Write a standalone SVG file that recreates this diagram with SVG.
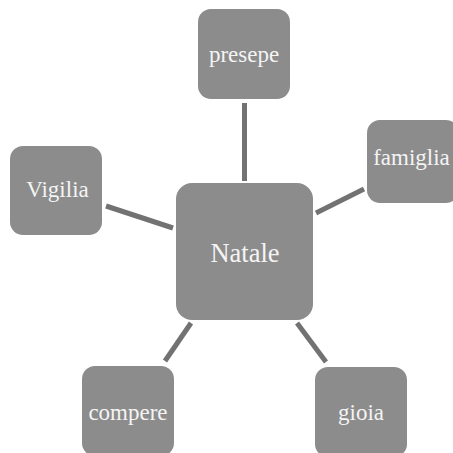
<svg xmlns="http://www.w3.org/2000/svg" width="453" height="453" viewBox="0 0 453 453">
<style>
.box{fill:#8c8c8c;}
.lbl{fill:#f4f4f4;font-family:"Liberation Serif","Times New Roman",serif;font-size:23px;text-anchor:middle;}
.big{font-size:26.5px;}
.conn line{stroke:#727272;stroke-width:5;}
</style>
<rect width="453" height="453" fill="#ffffff"/>
<g id="connectors" class="conn">
<line x1="244.5" y1="103" x2="244.5" y2="181"/>
<line x1="106" y1="206" x2="173" y2="228"/>
<line x1="316" y1="213" x2="364" y2="189"/>
<line x1="191" y1="323" x2="165" y2="361"/>
<line x1="297" y1="323" x2="326" y2="362"/>
</g>
<g id="natale">
<rect class="box" x="176" y="183" width="137" height="137" rx="16"/>
<text class="lbl big" x="245" y="262">Natale</text>
</g>
<g id="presepe">
<rect class="box" x="198" y="9" width="92" height="90" rx="13"/>
<text class="lbl" x="244" y="62">presepe</text>
</g>
<g id="famiglia">
<rect class="box" x="367" y="120" width="92" height="83" rx="13"/>
<text class="lbl" x="411.5" y="165">famiglia</text>
</g>
<g id="vigilia">
<rect class="box" x="10" y="146" width="92" height="89" rx="13"/>
<text class="lbl" x="57.5" y="197">Vigilia</text>
</g>
<g id="compere">
<rect class="box" x="82" y="366" width="92" height="90" rx="13"/>
<text class="lbl" x="128" y="420">compere</text>
</g>
<g id="gioia">
<rect class="box" x="315" y="367" width="92" height="90" rx="13"/>
<text class="lbl" x="361" y="420">gioia</text>
</g>
</svg>
